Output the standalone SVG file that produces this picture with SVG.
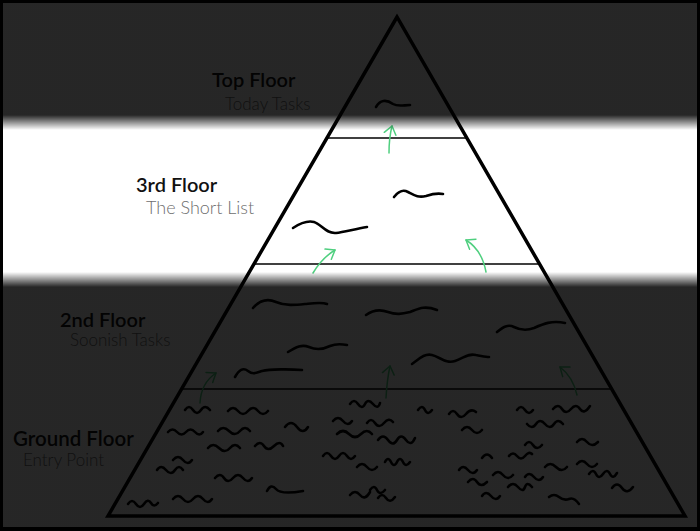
<svg xmlns="http://www.w3.org/2000/svg" width="700" height="531" viewBox="0 0 700 531">
<style>
.title{font-family:Lato,"Liberation Sans",sans-serif;font-weight:600;font-size:20px;fill:#111}
.sub{font-family:Lato,"Liberation Sans",sans-serif;font-weight:300;font-size:17px;fill:#6e6e6e}
.sq{fill:none;stroke:#000;stroke-width:2.6;stroke-linecap:round;stroke-linejoin:round}
.fl{fill:none;stroke:#000;stroke-width:1.6}
.ar{fill:none;stroke:#4fcf7f;stroke-width:1.5;stroke-linecap:round;marker-end:url(#ah)}
</style>
<defs>
<marker id="ah" markerUnits="userSpaceOnUse" markerWidth="16" markerHeight="16" viewBox="0 0 16 16" refX="9" refY="8" orient="auto">
<path d="M1,2 L9,8 L1,14" fill="none" stroke="#4fcf7f" stroke-width="1.5" stroke-linecap="round" stroke-linejoin="round"/>
</marker>
<linearGradient id="shade" gradientUnits="userSpaceOnUse" x1="0" y1="0" x2="0" y2="531">
<stop offset="0" stop-color="#000" stop-opacity="0.85"/>
<stop offset="0.2166" stop-color="#000" stop-opacity="0.85"/>
<stop offset="0.2448" stop-color="#000" stop-opacity="0"/>
<stop offset="0.5122" stop-color="#000" stop-opacity="0"/>
<stop offset="0.5405" stop-color="#000" stop-opacity="0.85"/>
<stop offset="1" stop-color="#000" stop-opacity="0.85"/>
</linearGradient>
</defs>
<rect x="0" y="0" width="700" height="531" fill="#000"/>
<rect x="3" y="3" width="694" height="524" fill="#fff"/>
<g id="pyramid">
<polygon points="397,17 108,516 685,516" fill="none" stroke="#000" stroke-width="3.5"/>
<line class="fl" x1="327" y1="138" x2="467" y2="138"/>
<line class="fl" x1="254" y1="264" x2="540" y2="264"/>
<line class="fl" x1="182" y1="389" x2="612" y2="389"/>
</g>
<g id="floor-top">
<text class="title" x="212" y="87">Top Floor</text>
<text class="sub" x="225" y="110">Today Tasks</text>
<path class="sq" d="M376,107 C380,100 386,99 393,104 C398,107 404,105 410,105"/>
</g>
<g id="floor-3">
<text class="title" x="136" y="192">3rd Floor</text>
<text class="sub" x="146" y="214" style="font-size:18px">The Short List</text>
<path class="sq" d="M394,197 C398,192 402,189 408,192 C414,195 418,198 426,196 C432,194 438,193 443,194"/>
<path class="sq" d="M293,228 C299,224 306,220 314,222 C321,224 326,234 336,233 C344,232 355,229 367,227"/>
</g>
<g id="floor-2">
<text class="title" x="60" y="327">2nd Floor</text>
<text class="sub" x="70" y="346">Soonish Tasks</text>
<path class="sq" d="M253,308 C260,300 267,298 276,302 C285,306 295,305 305,304 C315,303 322,302 327,304"/>
<path class="sq" d="M288,352 C296,347 302,344 309,347 C316,350 322,350 330,346 C337,343 342,344 347,345"/>
<path class="sq" d="M235,377 C239,370 243,367 248,371 C253,375 256,373 262,371 C270,369 290,369 302,370"/>
<path class="sq" d="M366,315 C373,310 380,309 388,312 C396,315 402,314 410,312 C418,309 424,305 437,310"/>
<path class="sq" d="M497,332 C503,327 508,324 514,327 C520,330 526,331 534,328 C543,324 552,320 565,323"/>
<path class="sq" d="M412,364 C418,360 424,353 432,355 C440,357 446,364 455,361 C464,358 468,353 476,355 C482,356 486,357 489,357"/>
</g>
<g id="floor-ground">
<text class="title" x="13" y="446" style="font-size:20.5px">Ground Floor</text>
<text class="sub" x="23" y="466">Entry Point</text>
<g class="sq">
<path d="M185,410 q4,-6 8,0 t8,0 t9,0"/>
<path d="M228,411 q5,-6 10,0 t10,0 t10,0 t10,0"/>
<path d="M168,432 q4.5,-5 9,0 t9,0 t9,0 t8,0"/>
<path d="M218,431 q5,-6 11,0 t11,0 t10,0"/>
<path d="M285,427 q6,-8 12,0 t11,0"/>
<path d="M333,421 q5,-6 10,0 t9,0"/>
<path d="M208,448 q5,-6 11,0 t11,0 t10,0"/>
<path d="M255,446 q5,-6 9,0 t10,0 t9,0"/>
<path d="M173,460 q5,-6 10,0 t9,0"/>
<path d="M157,470 q4,-6 9,0 t9,0 t8,0"/>
<path d="M215,478 q5,-6 9,0 t9,0 t10,0 t9,0"/>
<path d="M267,491 q4,-8 9,-2 t27,2"/>
<path d="M173,499 q5,-6 10,0 t10,0 t10,0 t9,0"/>
<path d="M128,504 q4,-6 8,0 t8,0 t7,-1 t7,0"/>
<path d="M350,404 q4,-6 8,0 t7,0 t8,0 t7,-1"/>
<path d="M418,410 q4,-6 7,0 t7,0"/>
<path d="M449,414 q4,-6 8,0 t9,0 t10,-2"/>
<path d="M517,410 q4,-6 8,0 t8,0"/>
<path d="M553,409 q5,-6 9,0 t9,0 t9,0 t10,-3"/>
<path d="M367,423 q4,-6 8,0 t9,0 t9,-1"/>
<path d="M462,430 q5,-6 10,0 t10,0"/>
<path d="M527,424 q5,6 9,0 t9,0 t9,0 t9,0"/>
<path d="M337,434 q6,-6 12,0 t12,0 t11,0"/>
<path d="M378,440 q5,-7 10,0 t9,0 t9,0 t9,-2"/>
<path d="M525,445 q4,-6 8,0 t9,0"/>
<path d="M577,442 q5,-6 10,0 t11,0"/>
<path d="M323,456 q4,-6 8,0 t8,0 t8,0 t8,0"/>
<path d="M357,467 q5,-6 10,0 t10,0"/>
<path d="M385,462 q3,-6 6,0 t6,0 t6,0 t7,0"/>
<path d="M482,458 q5,-7 10,0"/>
<path d="M509,456 q4,-5 8,0 t8,0 t7,-2"/>
<path d="M459,470 q4,-6 9,0 t9,0"/>
<path d="M493,475 q5,-6 10,0 t10,0"/>
<path d="M525,477 q4,-6 9,0 t9,0"/>
<path d="M545,467 q5,-6 11,0 t11,0"/>
<path d="M577,464 q5,-6 10,0 t10,0"/>
<path d="M589,474 q4,-6 7,0 t7,0 t7,0 t7,-1"/>
<path d="M468,482 q5,-6 9,0 t10,0"/>
<path d="M508,487 q5,-6 10,0 t7,0 t7,0"/>
<path d="M482,496 q4,-6 9,0 t9,0"/>
<path d="M549,497 q5,-4 10,0 t10,2 t10,5"/>
<path d="M612,488 q5,-7 10,0 t11,-1"/>
<path d="M350,495 q5,-6 10,0 t10,-3"/>
<path d="M370,490 q4,-6 7,0 t8,0"/>
<path d="M378,498 q4,-6 8,0 t9,-1"/>
</g>
</g>
<g id="connectors">
<path class="ar" d="M389,153 Q389,138 392,126"/>
<path class="ar" d="M313,273 Q322,258 335,250"/>
<path class="ar" d="M486,272 Q482,250 466,240"/>
<path class="ar" d="M200,403 Q201,383 216,373"/>
<path class="ar" d="M386,398 Q387,380 390,366"/>
<path class="ar" d="M577,395 Q573,377 560,367"/>
</g>
<rect x="3" y="3" width="694" height="524" fill="url(#shade)"/>
</svg>
